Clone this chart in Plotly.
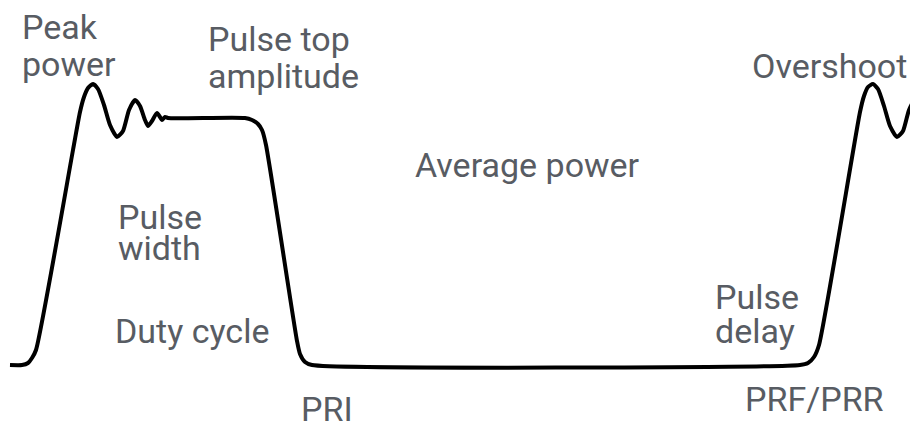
import plotly.graph_objects as go

# Pulse waveform trace (time axis in px-like units, level above baseline)
wave_t = [10, 22, 28, 32, 36, 73, 80, 84, 88, 93, 98, 104, 110, 117, 123, 129, 135, 140, 145, 148,
          152, 157, 160, 162, 165, 168, 245, 252, 258, 262, 266, 297, 300, 305, 312,
          800, 808, 814, 819, 860, 864, 868, 873, 878, 884, 890, 897, 903, 909, 915, 920]
wave_y = [365, 365, 363, 358, 350, 150, 112, 97, 88, 84, 89, 105, 125, 137, 131, 110, 100, 106, 120, 126,
          121, 113, 117, 120, 117, 118, 118, 120, 124, 130, 145, 341, 354, 362, 365,
          365, 363, 357, 345, 112, 96, 87, 84, 89, 106, 126, 137, 131, 110, 100, 104]
wave_level = [365 - v for v in wave_y]

# Text labels: (text, left, baseline)
labels = ["Peak", "power", "Pulse top", "amplitude", "Overshoot", "Average power",
          "Pulse", "width", "Duty cycle", "Pulse", "delay", "PRI", "PRF/PRR"]
label_left = [20, 20, 206, 206, 750, 413, 116, 116, 113, 713, 713, 299, 743]
label_base = [38, 75, 50, 87, 77, 176, 228, 259, 342, 308, 342, 420, 410]

fig = go.Figure()
fig.add_trace(go.Scatter(
    x=wave_t, y=wave_level, mode="lines",
    line=dict(color="#000000", width=4, shape="spline", smoothing=0.6),
    hoverinfo="skip", showlegend=False,
))

for txt, lx, bl in zip(labels, label_left, label_base):
    fig.add_annotation(
        x=lx, y=365 - (bl - 11.5), xref="x", yref="y",
        text=txt, showarrow=False, xanchor="left", yanchor="middle",
        font=dict(family="Roboto", size=34, color="#585c63"),
    )

# page body has an 8px margin; size the figure to fit the 918x429 window
fig.update_layout(
    width=910, height=421,
    margin=dict(l=0, r=0, t=0, b=0),
    paper_bgcolor="white", plot_bgcolor="white",
    xaxis=dict(range=[8, 918], visible=False, fixedrange=True),
    yaxis=dict(range=[365 - 429, 365 - 8], visible=False, fixedrange=True),
)

fig.write_html("out.html")
